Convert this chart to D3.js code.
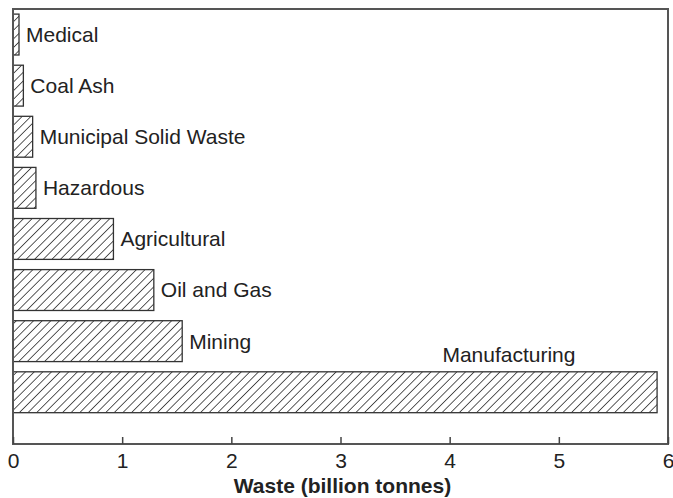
<!DOCTYPE html>
<html>
<head>
<meta charset="utf-8">
<script src="https://cdn.jsdelivr.net/npm/d3@7"></script>
<style>
  html, body { margin: 0; padding: 0; background: #fff; }
  svg { display: block; font-family: "Liberation Sans", Arial, Helvetica, sans-serif; }
</style>
</head>
<body>
<svg id="chart" width="673" height="498"></svg>
<script>
const categories = ["Medical", "Coal Ash", "Municipal Solid Waste", "Hazardous", "Agricultural", "Oil and Gas", "Mining", "Manufacturing"];
const values = [0.055, 0.095, 0.18, 0.21, 0.92, 1.29, 1.55, 5.90];
const tickValues = [0, 1, 2, 3, 4, 5, 6];
const axisTitle = "Waste (billion tonnes)";

const W = 673, H = 498;
const margin = {top: 9, right: 5, bottom: 54, left: 13};
const svg = d3.select("#chart");

const x = d3.scaleLinear().domain([0, 6]).range([margin.left, W - margin.right]);
const y = d3.scaleBand().domain(categories)
  .range([margin.top, margin.top + 8 * 51.1])
  .paddingInner(0.2).paddingOuter(0.1);

const defs = svg.append("defs");
const pat = defs.append("pattern")
  .attr("id", "hatch").attr("patternUnits", "userSpaceOnUse")
  .attr("width", 6.1).attr("height", 6.1)
  .attr("patternTransform", "rotate(45)");
pat.append("rect").attr("width", 6.1).attr("height", 6.1).attr("fill", "#fff");
pat.append("line").attr("x1", 0).attr("y1", 0).attr("x2", 0).attr("y2", 6.1)
  .attr("stroke", "#333").attr("stroke-width", 1.6);

const data = categories.map((c, i) => ({cat: c, value: values[i]}));

svg.append("g").selectAll("rect").data(data).join("rect")
  .attr("x", x(0))
  .attr("y", d => y(d.cat))
  .attr("width", d => x(d.value) - x(0))
  .attr("height", y.bandwidth())
  .attr("fill", "url(#hatch)")
  .attr("stroke", "#333").attr("stroke-width", 1.3);

const maxV = d3.max(values);
svg.append("g").selectAll("text").data(data).join("text")
  .attr("x", d => d.value === maxV ? x(d.value * 0.77) : x(d.value) + 7)
  .attr("y", d => d.value === maxV ? y(d.cat) - 10 : y(d.cat) + y.bandwidth() / 2)
  .attr("dy", d => d.value === maxV ? 0 : "0.35em")
  .attr("text-anchor", d => d.value === maxV ? "middle" : "start")
  .attr("font-size", 21).attr("fill", "#222")
  .text(d => d.cat);

// frame
svg.append("rect")
  .attr("x", margin.left).attr("y", margin.top)
  .attr("width", W - margin.right - margin.left)
  .attr("height", H - margin.bottom - margin.top)
  .attr("fill", "none").attr("stroke", "#555").attr("stroke-width", 2);

const axis = d3.axisBottom(x).tickValues(tickValues).tickFormat(d3.format("d"))
  .tickSizeInner(-7).tickSizeOuter(0).tickPadding(9);
const gAxis = svg.append("g").attr("transform", `translate(0,${H - margin.bottom})`).call(axis);
gAxis.select(".domain").remove();
gAxis.selectAll(".tick line").attr("stroke", "#444").attr("stroke-width", 1.5);
gAxis.selectAll(".tick text").attr("font-size", 21).attr("fill", "#222")
  .attr("font-family", "Liberation Sans, Arial, sans-serif");

svg.append("text")
  .attr("x", (margin.left + W - margin.right) / 2 + 2)
  .attr("y", 493)
  .attr("text-anchor", "middle")
  .attr("font-size", 21).attr("font-weight", "bold").attr("fill", "#222")
  .text(axisTitle);
</script>
</body>
</html>
